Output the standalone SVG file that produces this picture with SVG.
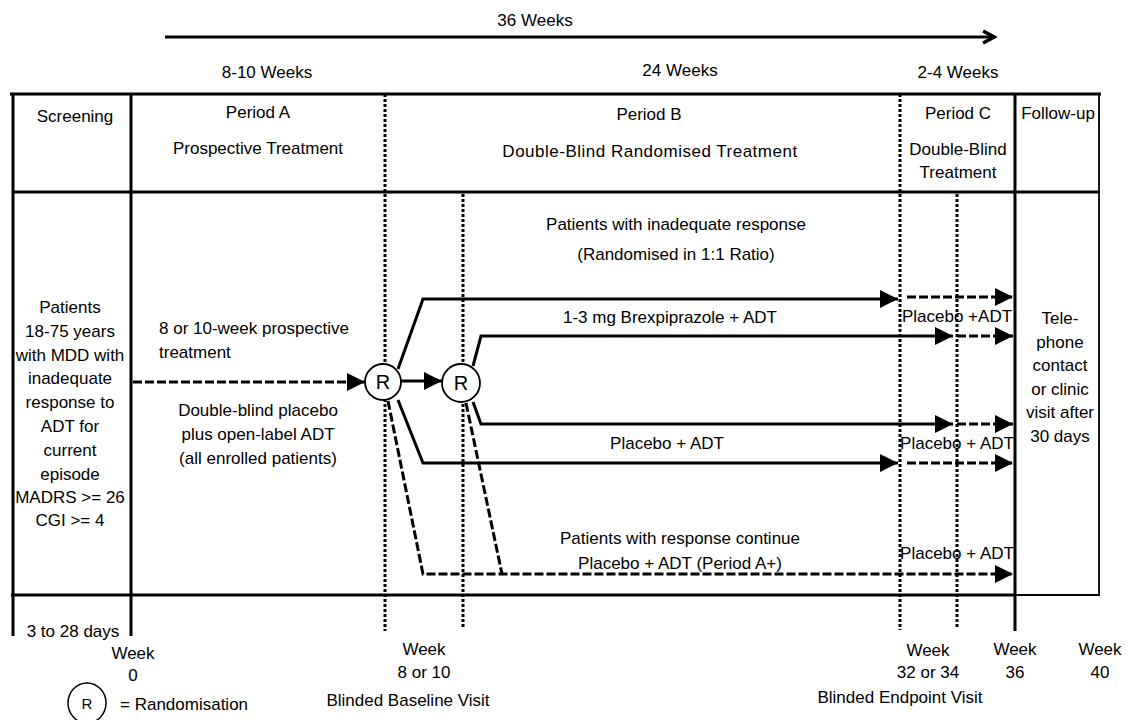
<svg xmlns="http://www.w3.org/2000/svg" width="1129" height="720" viewBox="0 0 1129 720">
<style>
text{font-family:"Liberation Sans",Arial,sans-serif;font-size:17px;fill:#000;}
.c{text-anchor:middle;}
.frame{stroke:#000;stroke-width:3;fill:none;}
.thin{stroke:#000;stroke-width:1.8;fill:none;}
.dot{stroke:#000;stroke-width:3;stroke-dasharray:3 2;fill:none;}
.solid{stroke:#000;stroke-width:3;fill:none;}
.dash{stroke:#000;stroke-width:3;stroke-dasharray:9 3;fill:none;}
.circ{fill:#fff;stroke:#000;stroke-width:1.8;}
</style>
<defs>
<marker id="ah" viewBox="0 0 10 10" refX="10" refY="5" markerWidth="6" markerHeight="6.3" markerUnits="strokeWidth" orient="auto">
<path d="M0,0 L10,5 L0,10 z" fill="#000"/>
</marker>
<marker id="chev" viewBox="0 0 10 10" refX="9" refY="5" markerWidth="5.3" markerHeight="6.5" markerUnits="strokeWidth" orient="auto">
<path d="M1.5,1.2 L8.5,5 L1.5,8.8" fill="none" stroke="#000" stroke-width="2.2"/>
</marker>
</defs>
<rect width="1129" height="720" fill="#fff"/>

<g id="frame">
<line class="frame" x1="10" y1="94" x2="1101" y2="94"/>
<line class="frame" x1="13" y1="192" x2="1100" y2="192"/>
<line class="frame" x1="11" y1="595" x2="1015" y2="595"/>
<line class="thin" x1="1015" y1="595" x2="1100" y2="595"/>
<line class="frame" x1="13" y1="94" x2="13" y2="636"/>
<line class="frame" x1="131" y1="94" x2="131" y2="636"/>
<line class="frame" x1="1015" y1="94" x2="1015" y2="631"/>
<line class="thin" x1="1099" y1="94" x2="1099" y2="595"/>
<line class="dot" x1="385" y1="94" x2="385" y2="631"/>
<line class="dot" x1="463" y1="194" x2="463" y2="627"/>
<line class="dot" x1="900" y1="94" x2="900" y2="630"/>
<line class="dot" x1="957" y1="194" x2="957" y2="628"/>
</g>

<g id="timeline">
<line class="solid" x1="165" y1="37" x2="995" y2="37" marker-end="url(#chev)"/>
<text class="c" x="535" y="26">36 Weeks</text>
<text class="c" x="267" y="78">8-10 Weeks</text>
<text class="c" x="680" y="76">24 Weeks</text>
<text class="c" x="958" y="78">2-4 Weeks</text>
</g>

<g id="header-screening"><text class="c" x="75" y="122">Screening</text></g>
<g id="header-periodA">
<text class="c" x="258" y="118">Period A</text>
<text class="c" x="258" y="154">Prospective Treatment</text>
</g>
<g id="header-periodB">
<text class="c" x="649" y="120">Period B</text>
<text class="c" x="650" y="157" style="letter-spacing:0.5px">Double-Blind Randomised Treatment</text>
</g>
<g id="header-periodC">
<text class="c" x="958" y="119">Period C</text>
<text class="c" x="958" y="155">Double-Blind</text>
<text class="c" x="958" y="178">Treatment</text>
</g>
<g id="header-followup"><text class="c" x="1058" y="119">Follow-up</text></g>

<g id="screening-patients">
<text class="c" x="70" y="313">Patients</text>
<text class="c" x="70" y="337">18-75 years</text>
<text class="c" x="70" y="361">with MDD with</text>
<text class="c" x="70" y="384">inadequate</text>
<text class="c" x="70" y="408">response to</text>
<text class="c" x="70" y="432">ADT for</text>
<text class="c" x="70" y="456">current</text>
<text class="c" x="70" y="480">episode</text>
<text class="c" x="70" y="503">MADRS &gt;= 26</text>
<text class="c" x="70" y="526">CGI &gt;= 4</text>
</g>

<g id="periodA-treatment">
<text x="159" y="334">8 or 10-week prospective</text>
<text x="159" y="358">treatment</text>
<text class="c" x="258" y="416">Double-blind placebo</text>
<text class="c" x="258" y="440">plus open-label ADT</text>
<text class="c" x="258" y="464">(all enrolled patients)</text>
</g>

<g id="periodB-labels">
<text class="c" x="676" y="230">Patients with inadequate response</text>
<text class="c" x="676" y="260">(Randomised in 1:1 Ratio)</text>
<text class="c" x="670" y="323">1-3 mg Brexpiprazole + ADT</text>
<text class="c" x="667" y="449">Placebo + ADT</text>
<text class="c" x="680" y="544">Patients with response continue</text>
<text class="c" x="680" y="569">Placebo + ADT (Period A+)</text>
</g>

<g id="periodC-labels">
<text class="c" x="957" y="322">Placebo +ADT</text>
<text class="c" x="957" y="449">Placebo + ADT</text>
<text class="c" x="957" y="559">Placebo + ADT</text>
</g>

<g id="followup-text">
<text class="c" x="1060" y="324">Tele-</text>
<text class="c" x="1060" y="348">phone</text>
<text class="c" x="1060" y="371">contact</text>
<text class="c" x="1060" y="395">or clinic</text>
<text class="c" x="1060" y="418">visit after</text>
<text class="c" x="1060" y="442">30 days</text>
</g>

<g id="connectors">
<line class="dash" x1="133" y1="382" x2="365" y2="382" marker-end="url(#ah)"/>
<line class="solid" x1="401" y1="381" x2="442" y2="381" marker-end="url(#ah)"/>
<polyline class="solid" points="398,369 423,299 898,299" marker-end="url(#ah)"/>
<polyline class="solid" points="398,400 423,463 898,463" marker-end="url(#ah)"/>
<polyline class="solid" points="473,366 481,336 953,336" marker-end="url(#ah)"/>
<polyline class="solid" points="473,402 481,424 953,424" marker-end="url(#ah)"/>
<polyline class="dash" points="388,401 423,574 1013,574" marker-end="url(#ah)"/>
<polyline class="dash" points="466,403 502,574"/>
<line class="dash" x1="907" y1="297" x2="1013" y2="297" marker-end="url(#ah)"/>
<line class="dash" x1="907" y1="463" x2="1013" y2="463" marker-end="url(#ah)"/>
<line class="dash" x1="957" y1="336" x2="1013" y2="336" marker-end="url(#ah)"/>
<line class="dash" x1="957" y1="424" x2="1013" y2="424" marker-end="url(#ah)"/>
</g>

<g id="rand1">
<circle class="circ" cx="383" cy="382" r="18"/>
<text class="c" x="383" y="389" style="font-size:20px">R</text>
</g>
<g id="rand2">
<circle class="circ" cx="461" cy="383" r="19"/>
<text class="c" x="461" y="390" style="font-size:20px">R</text>
</g>

<g id="bottom-labels">
<text class="c" x="73" y="637">3 to 28 days</text>
<text class="c" x="133" y="659">Week</text>
<text class="c" x="133" y="681">0</text>
<text class="c" x="424" y="655">Week</text>
<text class="c" x="424" y="678">8 or 10</text>
<text class="c" x="408" y="706">Blinded Baseline Visit</text>
<text class="c" x="928" y="656">Week</text>
<text class="c" x="928" y="678">32 or 34</text>
<text class="c" x="900" y="703">Blinded Endpoint Visit</text>
<text class="c" x="1015" y="655">Week</text>
<text class="c" x="1015" y="678">36</text>
<text class="c" x="1100" y="655">Week</text>
<text class="c" x="1100" y="678">40</text>
</g>

<g id="legend">
<ellipse cx="87" cy="703" rx="19" ry="20" fill="none" stroke="#000" stroke-width="1.5"/>
<text class="c" x="87" y="709" style="font-size:15px">R</text>
<text x="120" y="710">= Randomisation</text>
</g>
</svg>
